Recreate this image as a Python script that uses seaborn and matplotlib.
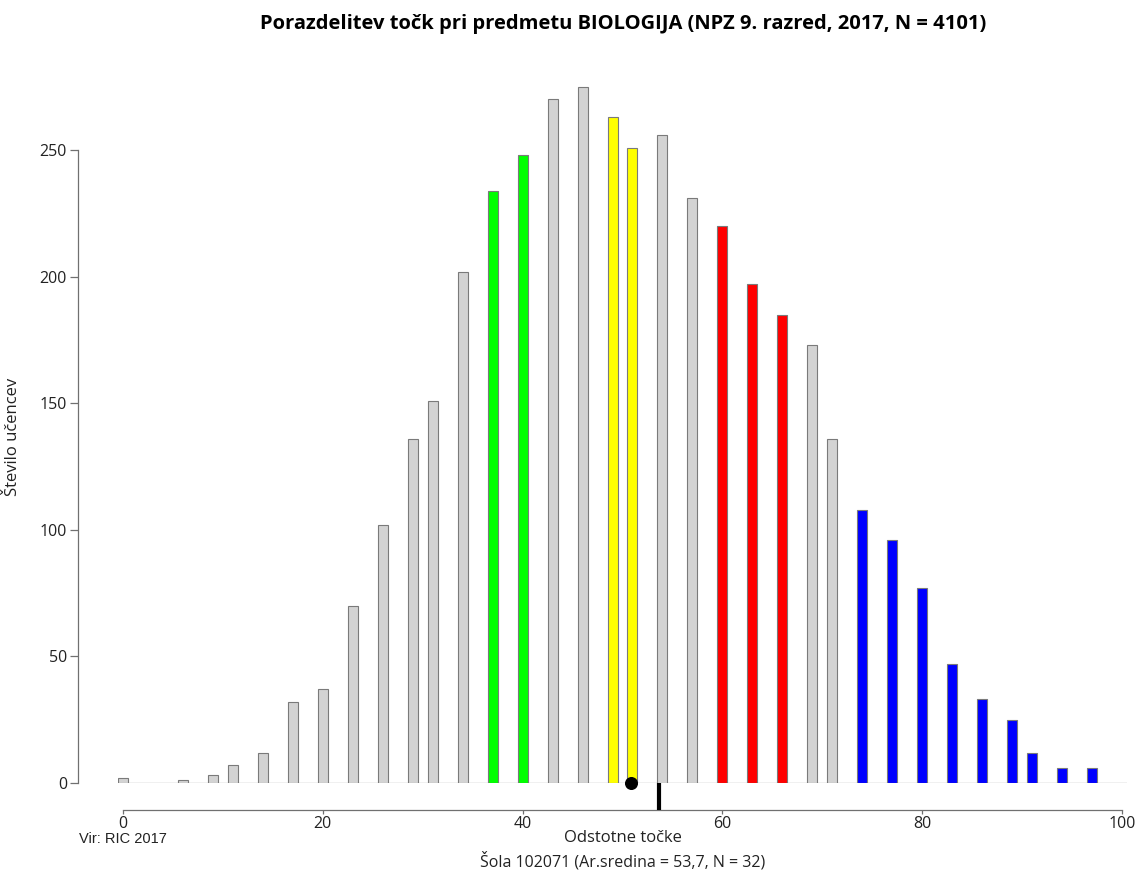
import matplotlib
matplotlib.use("Agg")
import matplotlib.pyplot as plt
import seaborn as sns
import pandas as pd

# ---- data ----
scores = [0, 6, 9, 11, 14, 17, 20, 23, 26, 29, 31, 34, 37, 40, 43, 46, 49, 51,
          54, 57, 60, 63, 66, 69, 71, 74, 77, 80, 83, 86, 89, 91, 94, 97]
counts = [2, 1, 3, 7, 12, 32, 37, 70, 102, 136, 151, 202, 234, 248, 270, 275, 263, 251,
          256, 231, 220, 197, 185, 173, 136, 108, 96, 77, 47, 33, 25, 12, 6, 6]
groups = ["siva"] * 12 + ["zelena"] * 2 + ["siva"] * 2 + ["rumena"] * 2 + ["siva"] * 2 \
         + ["rdeca"] * 3 + ["siva"] * 2 + ["modra"] * 9
x_ticks = [0, 20, 40, 60, 80, 100]
y_ticks = [0, 50, 100, 150, 200, 250]
school_mean = 53.7
school_dot = 50.9

title = "Porazdelitev točk pri predmetu BIOLOGIJA (NPZ 9. razred, 2017, N = 4101)"
ylabel = "Število učencev"
xlabel = "Odstotne točke"
subtitle = "Šola 102071 (Ar.sredina = 53,7, N = 32)"
source = "Vir: RIC 2017"

palette = {"siva": "#D3D3D3", "zelena": "#00FF00", "rumena": "#FFFF00",
           "rdeca": "#FF0000", "modra": "#0000FF"}

df = pd.DataFrame({"score": scores, "count": counts, "grp": groups})

sns.set_style("white")
plt.rcParams["font.family"] = ["Open Sans", "DejaVu Sans"]

W, H = 1139, 873
fig = plt.figure(figsize=(W / 100, H / 100), dpi=100)
ax_l, ax_r, ax_b, ax_t = 118, 1127, 783, 60
ax = fig.add_axes([ax_l / W, 1 - ax_b / H, (ax_r - ax_l) / W, (ax_b - ax_t) / H])

sns.barplot(data=df, x="score", y="count", hue="grp", palette=palette,
            native_scale=True, dodge=False, width=0.5, errorbar=None,
            saturation=1, edgecolor="#7a7a7a", linewidth=0.8, legend=False,
            ax=ax, zorder=2)

ylim = (0, 285.6)
ax.set_xlim(-0.5, 100.5)
ax.set_ylim(*ylim)
ax.set_xlabel("")
ax.set_ylabel("")

# baseline
ax.axhline(0, color="#8a8a8a", lw=0.9, zorder=1)

# spines R-style
for s in ["top", "right"]:
    ax.spines[s].set_visible(False)
px_per_y = (ax_b - ax_t) / (ylim[1] - ylim[0])
ax.spines["left"].set_position(("outward", 40 * 0.72))
ax.spines["bottom"].set_position(("outward", 27 * 0.72))
ax.spines["left"].set_bounds(y_ticks[0], y_ticks[-1])
ax.spines["bottom"].set_bounds(x_ticks[0], x_ticks[-1])
for s in ["left", "bottom"]:
    ax.spines[s].set_color("#707070")
    ax.spines[s].set_linewidth(0.9)

ax.set_xticks(x_ticks)
ax.set_yticks(y_ticks)
ax.tick_params(axis="y", length=6, width=0.9, color="#707070", pad=2,
               labelsize=11.5, labelcolor="#222222", left=True)
ax.tick_params(axis="x", length=3, width=0.9, color="#707070", pad=1,
               labelsize=11.5, labelcolor="#222222", bottom=True)

# school mean marker and dot
ax.vlines(school_mean, -27 / px_per_y, 0, color="black", lw=3, clip_on=False, zorder=6)
ax.scatter([school_dot], [0], s=70, color="black", zorder=7, clip_on=False)

# texts
fig.text(623 / W, 1 - 24 / H, title, ha="center", va="center",
         fontsize=14.5, fontweight="bold", color="black")
fig.text(13 / W, 1 - 437 / H, ylabel, ha="center", va="center", rotation=90,
         fontsize=12, color="#222222")
fig.text(623 / W, 1 - 838 / H, xlabel, ha="center", va="center",
         fontsize=12, color="#222222")
fig.text(623 / W, 1 - 861 / H, subtitle, ha="center", va="center",
         fontsize=11.5, color="#222222")
fig.text(79 / W, 1 - 839 / H, source, ha="left", va="center",
         fontsize=10.5, color="#222222", family=["Liberation Sans", "DejaVu Sans"])

fig.savefig("out.png", dpi=100)
